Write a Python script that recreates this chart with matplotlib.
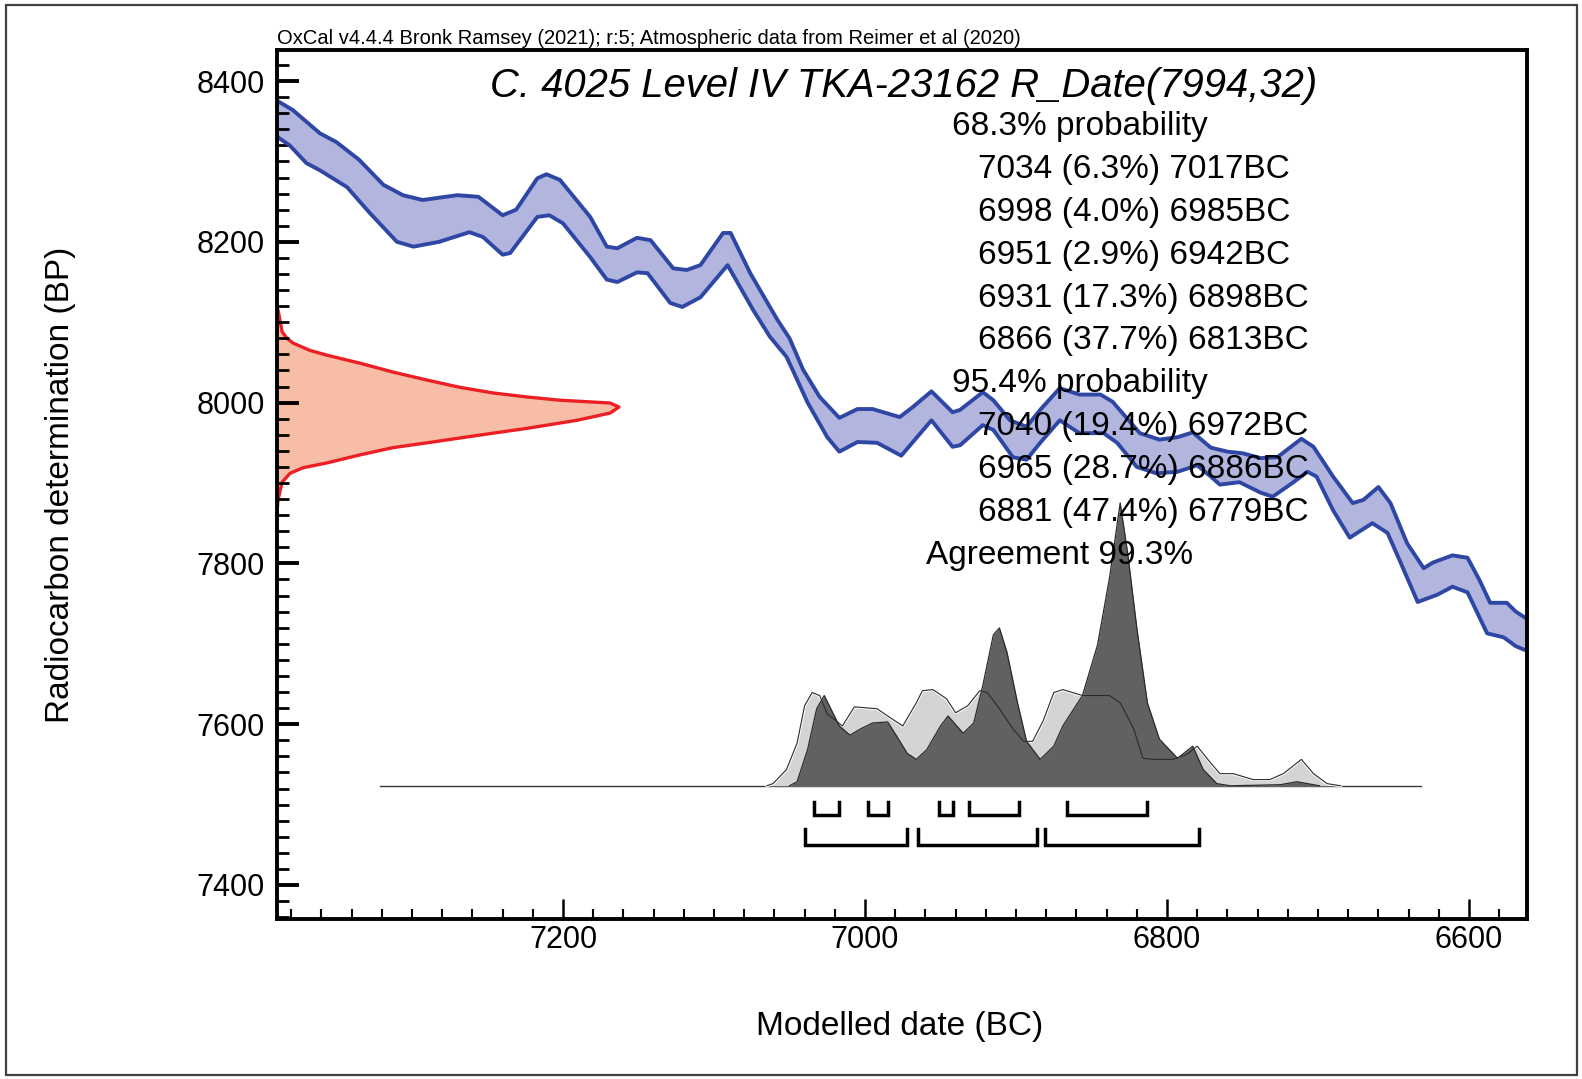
import numpy as np
import matplotlib
matplotlib.use("Agg")
import matplotlib.pyplot as plt
from matplotlib.patches import Rectangle
from matplotlib.ticker import MultipleLocator

plt.rcParams['font.family'] = ['Liberation Sans', 'DejaVu Sans']

# ---------------- data ----------------
# calibration curve (IntCal20) band: upper and lower edges (date BC, BP)
cal_upper_bc = [7392, 7390, 7388, 7379, 7361, 7350, 7335, 7319, 7306, 7293, 7270, 7256, 7240, 7231,
                7217, 7211, 7202, 7182, 7171, 7164, 7151, 7142, 7127, 7118, 7109, 7094, 7089, 7076,
                7063, 7058, 7050, 7041, 7030, 7017, 7005, 6995, 6977, 6968, 6956, 6942, 6937, 6922,
                6915, 6904, 6893, 6884, 6871, 6858, 6844, 6836, 6818, 6805, 6793, 6783, 6771, 6760,
                6750, 6738, 6727, 6711, 6703, 6690, 6677, 6670, 6660, 6652, 6641, 6630, 6624, 6611,
                6601, 6593, 6586, 6575, 6569, 6560]
cal_upper_bp = [8378, 8376, 8374, 8364, 8335, 8324, 8302, 8271, 8258, 8252, 8258, 8256, 8233, 8240,
                8279, 8284, 8277, 8231, 8194, 8192, 8205, 8202, 8167, 8165, 8171, 8211, 8211, 8161,
                8119, 8103, 8080, 8041, 8007, 7981, 7992, 7992, 7982, 7995, 8014, 7988, 7991, 8013,
                8003, 7978, 7970, 7991, 8018, 8010, 8010, 8001, 7962, 7954, 7957, 7963, 7944, 7939,
                7937, 7931, 7932, 7955, 7945, 7908, 7875, 7879, 7895, 7875, 7825, 7794, 7801, 7810,
                7807, 7779, 7751, 7751, 7740, 7729]
cal_lower_bc = [7392, 7390, 7388, 7381, 7370, 7361, 7343, 7328, 7310, 7299, 7282, 7262, 7253, 7240,
                7235, 7217, 7209, 7200, 7182, 7171, 7164, 7151, 7144, 7129, 7121, 7109, 7091, 7074,
                7070, 7063, 7052, 7048, 7038, 7025, 7017, 7005, 6992, 6976, 6966, 6956, 6942, 6937,
                6922, 6915, 6902, 6893, 6884, 6871, 6858, 6842, 6833, 6820, 6807, 6793, 6780, 6771,
                6765, 6752, 6738, 6730, 6717, 6707, 6701, 6690, 6679, 6664, 6654, 6646, 6634, 6621,
                6611, 6601, 6588, 6577, 6569, 6560]
cal_lower_bp = [8335, 8333, 8329, 8320, 8298, 8289, 8268, 8236, 8200, 8194, 8200, 8212, 8206, 8184,
                8186, 8231, 8233, 8223, 8181, 8153, 8150, 8162, 8161, 8124, 8119, 8131, 8171, 8115,
                8103, 8082, 8057, 8041, 8000, 7957, 7939, 7951, 7950, 7934, 7956, 7978, 7945, 7947,
                7972, 7966, 7932, 7929, 7950, 7978, 7962, 7962, 7950, 7920, 7912, 7914, 7922, 7908,
                7898, 7901, 7888, 7883, 7900, 7914, 7908, 7866, 7832, 7850, 7838, 7804, 7752, 7761,
                7771, 7764, 7713, 7708, 7697, 7690]

# radiocarbon likelihood R_Date(7994,32): BP vs relative probability
rdate_bp = [8118, 8115, 8088, 8080, 8074, 8065, 8059, 8049, 8038, 8028, 8019, 8012, 8007, 8003,
            7999.5, 7994.5, 7987, 7978, 7968, 7962, 7956, 7950, 7944, 7935, 7925, 7919, 7912,
            7901, 7879, 7863]
rdate_prob = [0.0, 0.003, 0.015, 0.029, 0.047, 0.096, 0.146, 0.243, 0.339, 0.439, 0.535, 0.632,
              0.731, 0.827, 0.974, 1.0, 0.974, 0.877, 0.731, 0.632, 0.535, 0.439, 0.339, 0.243,
              0.146, 0.076, 0.038, 0.015, 0.003, 0.0]

# unmodelled (prior, light) and modelled (posterior, dark) distributions
prior_bc = [7065, 7061, 7052, 7045, 7040, 7035, 7030, 7025, 7015, 7007, 6992, 6985, 6975, 6966,
            6962, 6955, 6946, 6940, 6932, 6924, 6919, 6911, 6902, 6895, 6889, 6882, 6875, 6869,
            6856, 6838, 6831, 6822, 6816, 6809, 6796, 6787, 6780, 6773, 6765, 6756, 6743, 6732,
            6723, 6711, 6703, 6694, 6685]
prior_prob = [0, 0.008, 0.06, 0.158, 0.297, 0.346, 0.335, 0.267, 0.222, 0.293, 0.286, 0.259,
              0.222, 0.308, 0.353, 0.357, 0.323, 0.271, 0.297, 0.353, 0.346, 0.286, 0.211, 0.165,
              0.165, 0.241, 0.346, 0.357, 0.335, 0.335, 0.308, 0.211, 0.102, 0.098, 0.098, 0.117,
              0.147, 0.098, 0.045, 0.045, 0.023, 0.023, 0.045, 0.098, 0.045, 0.008, 0]
post_bc = [7050, 7045, 7038, 7032, 7027, 7017, 7010, 7003, 6995, 6985, 6979, 6972, 6966, 6959,
           6950, 6945, 6935, 6928, 6922, 6915, 6911, 6906, 6899, 6893, 6884, 6875, 6869, 6856,
           6846, 6838, 6831, 6826, 6820, 6813, 6805, 6793, 6783, 6776, 6767, 6758, 6725, 6714, 6699]
post_prob = [0, 0.015, 0.135, 0.286, 0.335, 0.222, 0.188, 0.211, 0.233, 0.237, 0.184, 0.12,
             0.098, 0.135, 0.222, 0.259, 0.195, 0.233, 0.372, 0.56, 0.586, 0.496, 0.308, 0.165,
             0.098, 0.147, 0.222, 0.335, 0.523, 0.774, 1.05, 0.861, 0.586, 0.308, 0.173, 0.102,
             0.147, 0.06, 0.008, 0, 0.004, 0.015, 0]
dist_span_bc = [7321, 6632]

ranges68 = [(7034, 7017), (6998, 6985), (6951, 6942), (6931, 6898), (6866, 6813)]
pct68 = [6.3, 4.0, 2.9, 17.3, 37.7]
ranges95 = [(7040, 6972), (6965, 6886), (6881, 6779)]
pct95 = [19.4, 28.7, 47.4]
agreement = 99.3

title = "C. 4025 Level IV TKA-23162 R_Date(7994,32)"
credit = "OxCal v4.4.4 Bronk Ramsey (2021); r:5; Atmospheric data from Reimer et al (2020)"
xlabel = "Modelled date (BC)"
ylabel = "Radiocarbon determination (BP)"
xticks = [7200, 7000, 6800, 6600]
yticks = [7400, 7600, 7800, 8000, 8200, 8400]

# ---------------- figure ----------------
W, H = 1582, 1079
fig = plt.figure(figsize=(W / 100, H / 100), dpi=100)
fig.patch.set_facecolor('white')

def fx(px):
    return px / W

def fy(py):
    return 1 - py / H

ax = fig.add_axes([fx(277), fy(918.5), fx(1527) - fx(277), fy(50) - fy(918.5)])
ax.set_xlim(7389.4, 6561.6)
ax.set_ylim(7358.3, 8438.6)
ax.set_zorder(2)
ax.patch.set_alpha(0)

# calibration band
poly_x = list(cal_upper_bc) + list(cal_lower_bc[::-1])
poly_y = list(cal_upper_bp) + list(cal_lower_bp[::-1])
ax.fill(poly_x, poly_y, color='#b2b6df', lw=0, zorder=1)
ax.plot(cal_upper_bc, cal_upper_bp, color='#2f47a4', lw=2.8, zorder=2,
        solid_joinstyle='round', solid_capstyle='round')
ax.plot(cal_lower_bc, cal_lower_bp, color='#2f47a4', lw=2.8, zorder=2,
        solid_joinstyle='round', solid_capstyle='round')

for s in ax.spines.values():
    s.set_linewidth(2.8)
    s.set_color('black')

ax.set_xticks(xticks)
ax.set_yticks(yticks)
ax.xaxis.set_minor_locator(MultipleLocator(20))
ax.yaxis.set_minor_locator(MultipleLocator(20))
ax.tick_params(axis='x', which='major', direction='in', length=14.4, width=1.8,
               labelsize=22, pad=5, top=False)
ax.tick_params(axis='x', which='minor', direction='in', length=7.2, width=1.5, top=False)
ax.tick_params(axis='y', which='major', direction='in', length=16, width=2.8,
               labelsize=22, pad=9, right=False)
ax.tick_params(axis='y', which='minor', direction='in', length=8.6, width=2.0, right=False)

# radiocarbon likelihood on a twin x-scale (probability along x)
ax_r = ax.twiny()
ax_r.set_zorder(1)
ax_r.axis('off')
ax_r.set_xlim(0, 3.655)
ax_r.fill_betweenx(rdate_bp, 0, rdate_prob, color='#f8bda6', lw=0)
ax_r.plot(rdate_prob, rdate_bp, color='#ec2024', lw=2.4, solid_joinstyle='round')

# distributions on a twin y-scale
ax_p = ax.twinx()
ax_p.set_zorder(1)
ax_p.axis('off')
ax_p.set_ylim(-0.4926, 2.731)
ax_p.plot(dist_span_bc, [0, 0], color='#3a3a3a', lw=1.0, zorder=1)
ax_p.fill_between(prior_bc, 0, prior_prob, color='#d4d4d4', lw=0, zorder=2)
ax_p.plot(prior_bc, prior_prob, color='white', lw=2.2, zorder=3)
ax_p.fill_between(post_bc, 0, post_prob, color='#616161', lw=0, zorder=4)
ax_p.plot(post_bc, post_prob, color='#2a2a2a', lw=0.9, zorder=5)
ax_p.plot(prior_bc, prior_prob, color='#2a2a2a', lw=0.8, zorder=6)

top68, bot68 = -0.060, -0.109
top95, bot95 = -0.162, -0.218
for a, b in ranges68:
    ax_p.plot([a, a, b, b], [top68, bot68, bot68, top68], color='black', lw=2.5,
              solid_joinstyle='miter', zorder=6)
for a, b in ranges95:
    ax_p.plot([a, a, b, b], [top95, bot95, bot95, top95], color='black', lw=2.5,
              solid_joinstyle='miter', zorder=6)

# ---------------- texts ----------------
fig.text(fx(277), fy(39), credit, fontsize=14.5, ha='left', va='center', zorder=10)
fig.text(fx(904), fy(97), title, fontsize=28.8, style='italic', ha='center', va='baseline', zorder=10)

lines = [("68.3% probability", 952)]
for (a, b), p in zip(ranges68, pct68):
    lines.append((f"{a} ({p:.1f}%) {b}BC", 978))
lines.append(("95.4% probability", 952))
for (a, b), p in zip(ranges95, pct95):
    lines.append((f"{a} ({p:.1f}%) {b}BC", 978))
lines.append((f"Agreement {agreement:.1f}%", 926))
for i, (txt, x0) in enumerate(lines):
    fig.text(fx(x0), fy(135 + i * 42.9), txt, fontsize=24, ha='left', va='baseline', zorder=10)

fig.text(fx(900), fy(1027), xlabel, fontsize=24, ha='center', va='center', zorder=10)
fig.text(fx(61), fy(485), ylabel, fontsize=24, ha='center', va='center', rotation=90, zorder=10)

fig.add_artist(Rectangle((fx(6), fy(1075)), fx(1577) - fx(6), fy(5) - fy(1075),
                         transform=fig.transFigure, fill=False, lw=1.6, ec='#404040'))

fig.savefig("out.png", dpi=100)
